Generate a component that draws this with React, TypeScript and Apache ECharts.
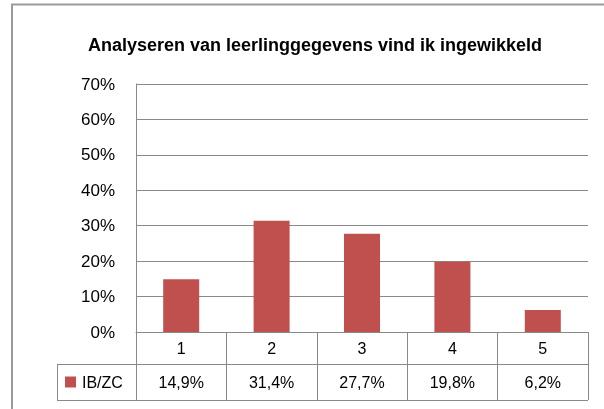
import React, { useEffect, useRef } from "react";
import * as echarts from "echarts";

const titleText = "Analyseren van leerlinggegevens vind ik ingewikkeld";
const categories = ["1", "2", "3", "4", "5"];
const seriesName = "IB/ZC";
const values = [14.9, 31.4, 27.7, 19.8, 6.2];
const yMin = 0;
const yMax = 70;
const yInterval = 10;

const FONT = "'Liberation Sans', Arial, sans-serif";
const GRID = "#898989";

const fmt = (v: number) => `${v.toFixed(1).replace(".", ",")}%`;

export default function App() {
  const ref = useRef<HTMLDivElement>(null);
  useEffect(() => {
    if (!ref.current) return;
    const chart = echarts.init(ref.current, undefined, { renderer: "svg" });
    const lineStyle = { stroke: GRID, lineWidth: 1 };
    chart.setOption({
      animation: false,
      textStyle: { fontFamily: FONT },
      grid: { left: 136, right: 16, top: 84, bottom: 77, containLabel: false },
      legend: {
        data: [seriesName],
        left: 65,
        top: 373,
        padding: 0,
        icon: "rect",
        itemWidth: 11,
        itemHeight: 11,
        itemGap: 0,
        textStyle: { fontSize: 16, color: "#000", fontFamily: FONT, lineHeight: 18, padding: [0, 0, 0, 1] },
      },
      xAxis: [
        {
          type: "category",
          data: categories,
          position: "bottom",
          axisLine: { show: true, lineStyle: { color: GRID, width: 1 } },
          axisTick: { show: true, length: 68, alignWithLabel: false, lineStyle: { color: GRID, width: 1 } },
          axisLabel: { fontSize: 16, color: "#000", fontFamily: FONT, margin: 16, verticalAlign: "middle" },
          splitLine: { show: false },
        },
        {
          type: "category",
          data: categories,
          position: "bottom",
          axisLine: { show: false },
          axisTick: { show: false },
          axisLabel: {
            fontSize: 16,
            color: "#000",
            fontFamily: FONT,
            margin: 50,
            verticalAlign: "middle",
            formatter: (_v: string, i: number) => fmt(values[i]),
          },
          splitLine: { show: false },
        },
      ],
      yAxis: {
        type: "value",
        min: yMin,
        max: yMax,
        interval: yInterval,
        axisLine: { show: true, lineStyle: { color: GRID, width: 1 } },
        axisTick: { show: false },
        axisLabel: { fontSize: 17, color: "#000", fontFamily: FONT, margin: 21, formatter: "{value}%" },
        splitLine: { show: true, lineStyle: { color: GRID, width: 1 } },
      },
      series: [
        {
          name: seriesName,
          type: "bar",
          xAxisIndex: 0,
          data: values,
          barWidth: 36,
          itemStyle: { color: "#C0504D" },
        },
      ],
      graphic: [
        {
          type: "rect",
          shape: { x: 12, y: 4.5, width: 640, height: 440 },
          style: { fill: "none", stroke: "#9a9a9a", lineWidth: 2 },
          silent: true,
        },
        {
          type: "text",
          x: 315,
          y: 45,
          style: {
            text: titleText,
            fontSize: 18,
            fontWeight: "bold",
            fontFamily: FONT,
            fill: "#000",
            align: "center",
            verticalAlign: "middle",
          },
        },
        { type: "line", shape: { x1: 57, y1: 364.5, x2: 588, y2: 364.5 }, style: lineStyle },
        { type: "line", shape: { x1: 57, y1: 400.5, x2: 588, y2: 400.5 }, style: lineStyle },
        { type: "line", shape: { x1: 57.5, y1: 364.5, x2: 57.5, y2: 400.5 }, style: lineStyle },
      ],
    });
    return () => chart.dispose();
  }, []);
  return <div ref={ref} style={{ position: "fixed", left: 0, top: 0, width: 604, height: 409 }} />;
}
